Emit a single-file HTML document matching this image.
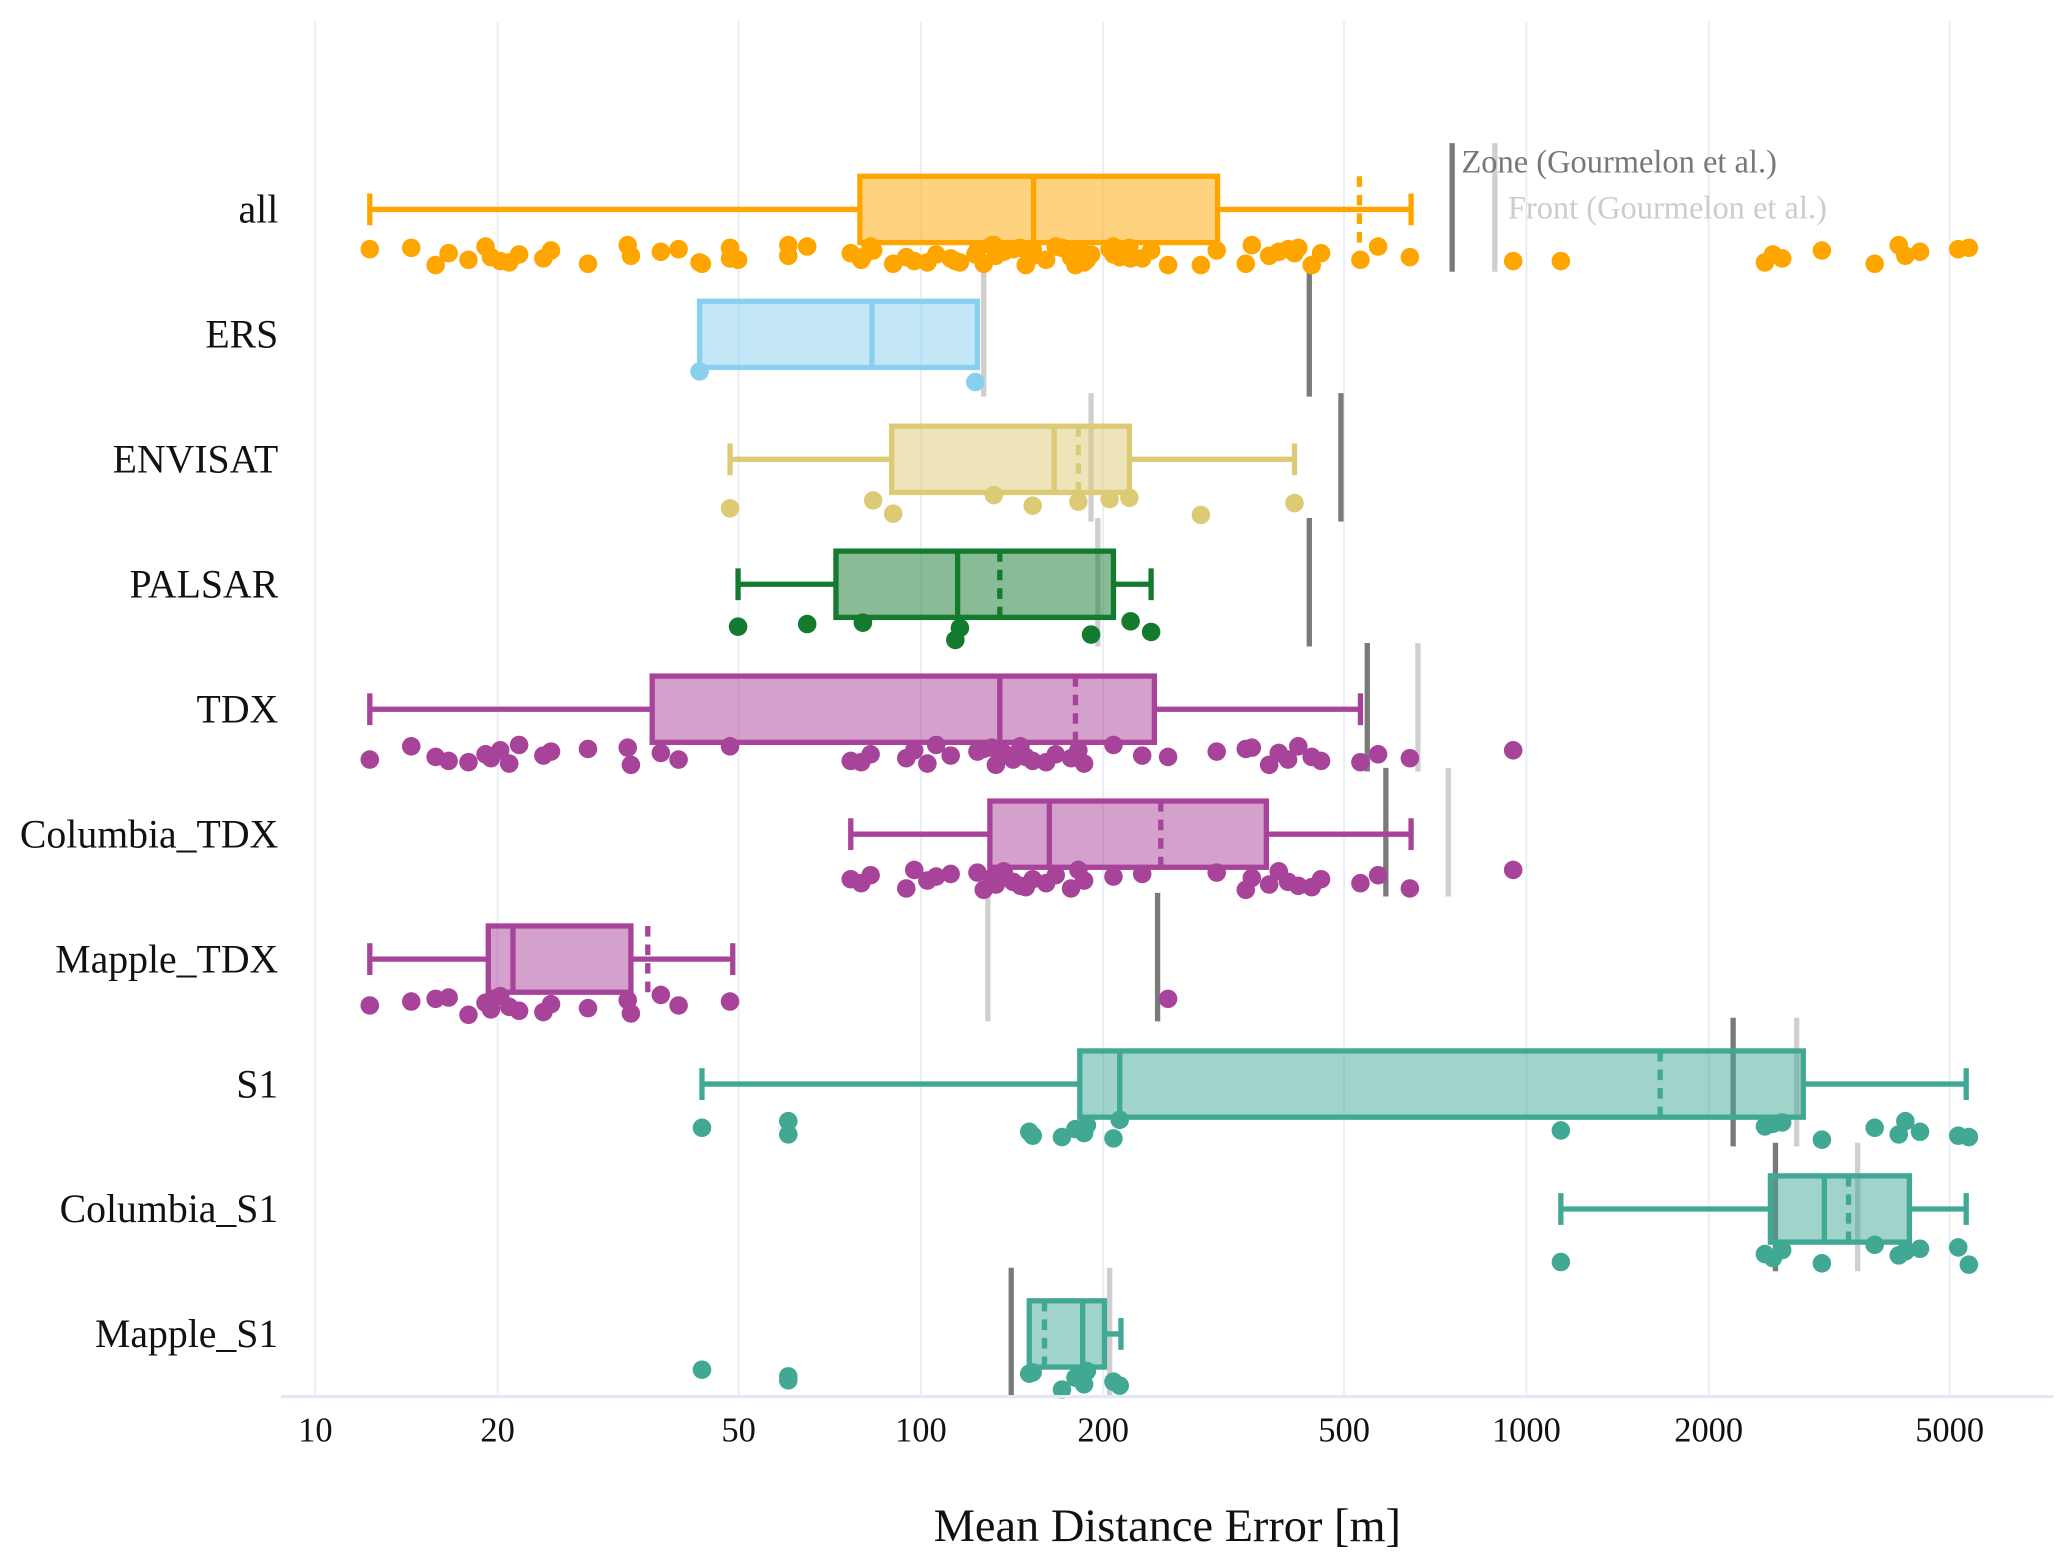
<!DOCTYPE html>
<html><head><meta charset="utf-8">
<style>
html,body{margin:0;padding:0;background:#fff;}
svg{display:block;font-family:"Liberation Serif",serif;}
</style></head>
<body>
<svg id="chart" width="2067" height="1561" viewBox="0 0 1560 1178" xmlns="http://www.w3.org/2000/svg">
<g id="grid"></g>
<g id="refs"></g>
<g id="boxes"></g>
<g id="pts"></g>
<g id="axis"></g>
<g id="ylab"></g>
<text x="881" y="1163" font-size="35" text-anchor="middle" fill="#111">Mean Distance Error [m]</text>
<text x="1103" y="130" font-size="24.5" fill="#777">Zone (Gourmelon et al.)</text>
<text x="1138" y="165" font-size="24.5" fill="#ccc">Front (Gourmelon et al.)</text>
</svg>
<script>
const categories = ["all","ERS","ENVISAT","PALSAR","TDX","Columbia_TDX","Mapple_TDX","S1","Columbia_S1","Mapple_S1"];
const colors = ["#FFA500","#89CFF0","#DDCA75","#137A2E","#A8439A","#A8439A","#A8439A","#41A893","#41A893","#41A893"];
const whiskerLow  = [12.3, 43.1, 48.4, 49.9, 12.3, 76.6, 12.3, 43.5, 1140, 151];
const q1Values    = [79.3, 43.1, 89.5, 72.4, 36, 130, 19.3, 183, 2529, 151];
const medianValues= [153.5, 83, 166, 115, 135, 163, 21.2, 213, 3105, 185];
const q3Values    = [309, 124, 221, 208, 243, 372, 33.2, 2866, 4290, 201];
const whiskerHigh = [645, 124, 414, 240, 532, 645, 48.9, 5325, 5325, 214];
const meanValues  = [530, null, 182, 135, 180, 249, 35.4, 1663, 3404, 160];
const zoneValues  = [754, 438, 494, 438, 546, 586, 246, 2195, 2578, 141];
const frontValues = [887, 127, 191, 196, 662, 743, 129, 2795, 3524, 205];
const ersPts = [43.1, 123];
const envisatPts = [48.4, 83.4, 90, 132, 153, 182, 205, 221, 290, 414];
const palsarPts = [49.9, 64.9, 80.2, 114, 116, 191, 222, 240];
const mappleTdxPts = [12.3,14.4,15.8,16.6,17.9,19.1,19.5,20.2,20.9,21.7,23.8,24.5,28.2,32.8,33.2,37.2,39.8,48.4,256];
const columbiaTdxPts = [76.6,79.7,82.6,94.6,97.5,102.5,106,112,124,127,131,133,137,142,146,149,153,161,167,177,182,186,208,232,308,344,352,376,390,404,420,442,458,532,569,642,951];
const mappleS1Pts = [43.5,60.4,60.4,151,153,171,180,186,188,208,213];
const columbiaS1Pts = [1140,2477,2553,2645,3076,3760,4120,4225,4467,5166,5379];
const s1Pts = mappleS1Pts.concat(columbiaS1Pts);
const tdxPts = mappleTdxPts.concat(columbiaTdxPts);
const allPts = tdxPts.concat(ersPts, envisatPts, palsarPts, s1Pts);
const pointSets = [allPts, ersPts, envisatPts, palsarPts, tdxPts, columbiaTdxPts, mappleTdxPts, s1Pts, columbiaS1Pts, mappleS1Pts];
const tickValues = [10,20,50,100,200,500,1000,2000,5000];
const tickLabels = ["10","20","50","100","200","500","1000","2000","5000"];
const jitterOffsets = [30,39,35,28,41,33,37,29,40,32,36,27,38,31,42,34];

const NS="http://www.w3.org/2000/svg";
function xs(v){return 238+457*Math.log10(v/10);}
function ys(i){return 158+i*94.3;}
function mk(tag,attrs,parent){const e=document.createElementNS(NS,tag);for(const k in attrs)e.setAttribute(k,attrs[k]);parent.appendChild(e);return e;}
const G=id=>document.getElementById(id);

tickValues.forEach((t,i)=>{
  const gl=mk('line',{x1:xs(t),x2:xs(t),y1:16,y2:1054,stroke:'#e8eef7','stroke-width':1.5},G('grid'));
  
  
  const tl=mk('text',{x:xs(t),y:1088,'font-size':26,'text-anchor':'middle',fill:'#111'},G('axis'));
  
  
  tl.textContent=tickLabels[i];
});
const ax=mk('line',{x1:212,x2:1550,y1:1054,y2:1054,stroke:'#e3e9f3','stroke-width':2.5},G('axis'));



categories.forEach((c,i)=>{
  const cy=ys(i), col=colors[i];
  const lab=mk('text',{x:210,y:cy+10,'font-size':30,'text-anchor':'end',fill:'#111'},G('ylab'));
  
  
  lab.textContent=c;
  const z=mk('line',{x1:xs(zoneValues[i]),x2:xs(zoneValues[i]),y1:cy-50,y2:cy+47,stroke:'#7a7a7a','stroke-width':4},G('refs'));
  
  
  const f=mk('line',{x1:xs(frontValues[i]),x2:xs(frontValues[i]),y1:cy-50,y2:cy+47,stroke:'#cfcfcf','stroke-width':4},G('refs'));
  
  

  const g=mk('g',{},G('boxes'));
  
  
  const sw=4;
  mk('line',{x1:xs(whiskerLow[i]),x2:xs(q1Values[i]),y1:cy,y2:cy,stroke:col,'stroke-width':sw},g);
  mk('line',{x1:xs(q3Values[i]),x2:xs(whiskerHigh[i]),y1:cy,y2:cy,stroke:col,'stroke-width':sw},g);
  if(whiskerLow[i]<q1Values[i]) mk('line',{x1:xs(whiskerLow[i]),x2:xs(whiskerLow[i]),y1:cy-12,y2:cy+12,stroke:col,'stroke-width':sw},g);
  if(whiskerHigh[i]>q3Values[i]) mk('line',{x1:xs(whiskerHigh[i]),x2:xs(whiskerHigh[i]),y1:cy-12,y2:cy+12,stroke:col,'stroke-width':sw},g);
  mk('rect',{x:xs(q1Values[i]),y:cy-25,width:xs(q3Values[i])-xs(q1Values[i]),height:50,fill:col,'fill-opacity':0.5,stroke:col,'stroke-width':sw},g);
  mk('line',{x1:xs(medianValues[i]),x2:xs(medianValues[i]),y1:cy-25,y2:cy+25,stroke:col,'stroke-width':sw},g);
  if(meanValues[i]!==null) mk('line',{x1:xs(meanValues[i]),x2:xs(meanValues[i]),y1:cy-25,y2:cy+25,stroke:col,'stroke-width':sw,'stroke-dasharray':'8,6'},g);

  pointSets[i].forEach((v,j)=>{
    const p=mk('circle',{cx:xs(v),cy:cy+jitterOffsets[(j*7+i*3)%jitterOffsets.length],r:7,fill:col},G('pts'));
    
    
  });
});
</script>
</body></html>
